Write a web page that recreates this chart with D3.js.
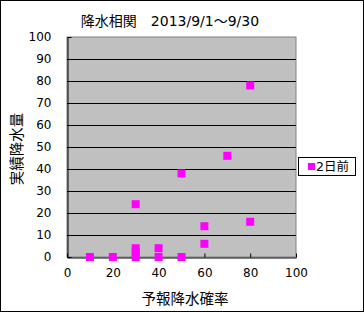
<!DOCTYPE html>
<html lang="ja">
<head>
<meta charset="UTF-8">
<title>降水相関</title>
<script src="https://d3js.org/d3.v7.min.js"></script>
<style>
    body{margin:0;background:#fff;}
    text{font-family:"DejaVu Sans","Noto Sans CJK JP",sans-serif;fill:#000;}
</style>
</head>
<body>
<svg width="364" height="312"></svg>
<script>
    // 予報降水確率 (x) と 実績降水量 (y)
    const probability = [10, 20, 30, 30, 30, 30, 40, 40, 50, 50, 60, 60, 70, 80, 80];
    const rainfall    = [0, 0, 0, 2, 4, 24, 0, 4, 0, 38, 6, 14, 46, 16, 78];
    const xTicks = [0, 20, 40, 60, 80, 100];
    const yTicks = [0, 10, 20, 30, 40, 50, 60, 70, 80, 90, 100];
    const seriesName = "2日前";

    const svg = d3.select("svg");
    const plotLeft = 67, plotRight = 296, plotTop = 37, plotBottom = 257;
    const fontStack = "'DejaVu Sans','Noto Sans CJK JP',sans-serif";

    const x = d3.scaleLinear().domain([0, 100]).range([plotLeft, plotRight]);
    const y = d3.scaleLinear().domain([0, 100]).range([plotBottom, plotTop]);

    // outer frame
    svg.append("rect").attr("x", 0.5).attr("y", 0.5).attr("width", 363).attr("height", 311)
        .attr("fill", "#fff").attr("stroke", "#000");

    // plot area
    svg.append("rect").attr("x", plotLeft).attr("y", plotTop)
        .attr("width", plotRight - plotLeft).attr("height", plotBottom - plotTop)
        .attr("fill", "#c0c0c0").attr("stroke", "#808080");

    // grid lines
    svg.append("g").selectAll("line").data(yTicks.slice(1, -1)).enter()
        .append("line")
        .attr("x1", plotLeft).attr("x2", plotRight)
        .attr("y1", d => Math.round(y(d)) + 0.5).attr("y2", d => Math.round(y(d)) + 0.5)
        .attr("stroke", "#000");

    // axes
    const xAxis = svg.append("g").attr("transform", `translate(0,${plotBottom + 0.5})`)
        .call(d3.axisBottom(x).tickValues(xTicks).tickSizeInner(-4).tickSizeOuter(0).tickPadding(11));
    const yAxis = svg.append("g").attr("transform", `translate(${plotLeft + 0.5},0)`)
        .call(d3.axisLeft(y).tickValues(yTicks).tickSizeInner(-4).tickSizeOuter(0).tickPadding(16));
    [xAxis, yAxis].forEach(a => {
        a.select(".domain").attr("stroke", "#000");
        a.selectAll(".tick line").attr("stroke", "#000");
        a.selectAll(".tick text").attr("font-size", 12).attr("fill", "#000")
            .style("font-family", fontStack);
    });

    // points
    svg.append("g").selectAll("rect").data(probability).enter()
        .append("rect")
        .attr("x", d => x(d) - 4)
        .attr("y", (d, i) => y(rainfall[i]) - 4)
        .attr("width", 8).attr("height", 8)
        .attr("fill", "#ff00ff");

    // titles
    svg.append("text").attr("x", 170).attr("y", 26).attr("text-anchor", "middle")
        .attr("font-size", 14).text("降水相関　2013/9/1～9/30");
    svg.append("text").attr("x", 185).attr("y", 304).attr("text-anchor", "middle")
        .attr("font-size", 14.5).text("予報降水確率");
    svg.append("text").attr("transform", "translate(22,149) rotate(-90)").attr("text-anchor", "middle")
        .attr("font-size", 14.5).text("実績降水量");

    // legend
    const legend = svg.append("g");
    legend.append("rect").attr("x", 298.5).attr("y", 157.5).attr("width", 57).attr("height", 18)
        .attr("fill", "#fff").attr("stroke", "#000");
    legend.append("rect").attr("x", 308).attr("y", 163).attr("width", 7).attr("height", 7).attr("fill", "#ff00ff");
    legend.append("text").attr("x", 316).attr("y", 171).attr("font-size", 12.5).text(seriesName);
</script>
</body>
</html>
